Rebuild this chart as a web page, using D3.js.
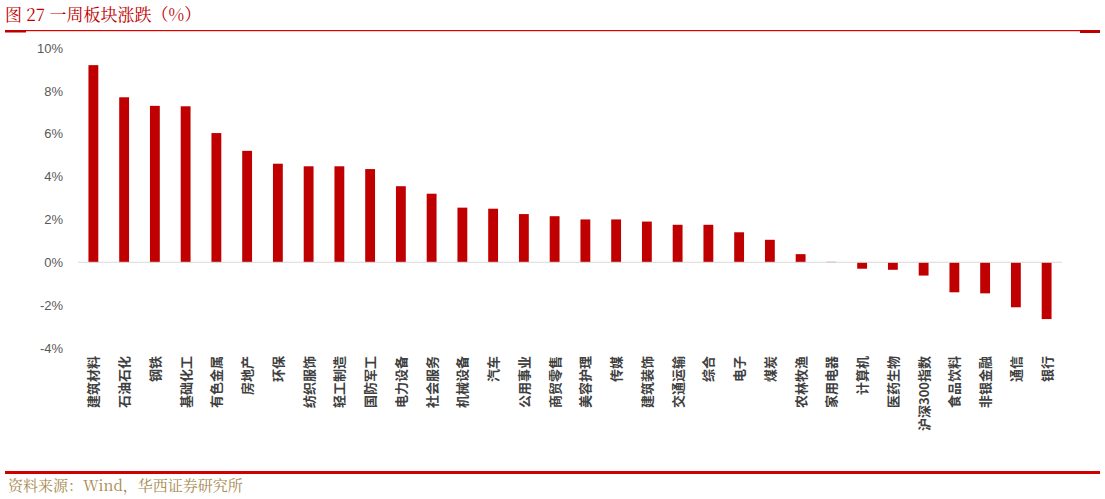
<!DOCTYPE html>
<html><head><meta charset="utf-8">
<script src="https://cdn.jsdelivr.net/npm/d3@7/dist/d3.min.js"></script>
<style>body{margin:0;background:#fff}</style></head>
<body><svg id="c" width="1105" height="499"></svg>
<script>
const categories=["建筑材料","石油石化","钢铁","基础化工","有色金属","房地产","环保","纺织服饰","轻工制造","国防军工","电力设备","社会服务","机械设备","汽车","公用事业","商贸零售","美容护理","传媒","建筑装饰","交通运输","综合","电子","煤炭","农林牧渔","家用电器","计算机","医药生物","沪深300指数","食品饮料","非银金融","通信","银行"];
const values=[9.2,7.7,7.3,7.28,6.03,5.2,4.6,4.48,4.48,4.35,3.55,3.2,2.55,2.5,2.25,2.15,2.0,2.0,1.9,1.75,1.75,1.4,1.05,0.38,0.02,-0.3,-0.35,-0.62,-1.4,-1.45,-2.1,-2.65];
const yTicks=[-4,-2,0,2,4,6,8,10];
const svg=d3.select("#c");
const red="#c00000";
const font="'Noto Sans CJK SC',sans-serif";
svg.append("text").attr("x",5).attr("y",21).attr("fill",red).attr("font-family","'Noto Serif CJK SC','Noto Sans CJK SC',serif").attr("font-size",17).text("图 27 一周板块涨跌（%）");
svg.append("rect").attr("x",5).attr("y",30).attr("width",1095).attr("height",1.2).attr("fill","#e00000");
svg.append("rect").attr("x",5).attr("y",30).attr("width",21).attr("height",2.5).attr("fill",red);
svg.append("rect").attr("x",1080).attr("y",30).attr("width",20).attr("height",3).attr("fill",red);
svg.append("rect").attr("x",5).attr("y",471).attr("width",1095).attr("height",3).attr("fill","#d00000");
svg.append("text").attr("x",8).attr("y",491).attr("fill","#a88a50").attr("font-family","'Noto Serif CJK SC','Liberation Serif',serif").attr("font-size",15).text("资料来源：Wind，华西证券研究所");
const x=d3.scaleBand().domain(categories).range([78,1062]).paddingInner(0.68).paddingOuter(0.34);
const y=d3.scaleLinear().domain([-4,10]).range([348,48]);
svg.append("g").selectAll("rect").data(values).join("rect")
 .attr("x",(d,i)=>x(categories[i])).attr("width",x.bandwidth())
 .attr("y",d=>y(Math.max(0,d))).attr("height",d=>Math.abs(y(d)-y(0))).attr("fill",red);
svg.append("line").attr("x1",78).attr("x2",1062).attr("y1",y(0)).attr("y2",y(0)).attr("stroke","#d9d9d9");
const ya=svg.append("g").attr("transform","translate(66,0)").call(d3.axisLeft(y).tickValues(yTicks).tickSize(0).tickFormat(d=>d+"%"));
ya.select(".domain").remove();
ya.selectAll("text").attr("font-family","'Liberation Sans',Arial,sans-serif").attr("font-size",13).attr("fill","#595959");
svg.append("g").selectAll("text").data(categories).join("text")
 .attr("transform",d=>`translate(${x(d)+x.bandwidth()/2+5},356) rotate(-90)`)
 .attr("text-anchor","end").attr("font-family",font).attr("font-size",13).attr("font-weight","bold").attr("fill","#404040").text(d=>d);
</script></body></html>
